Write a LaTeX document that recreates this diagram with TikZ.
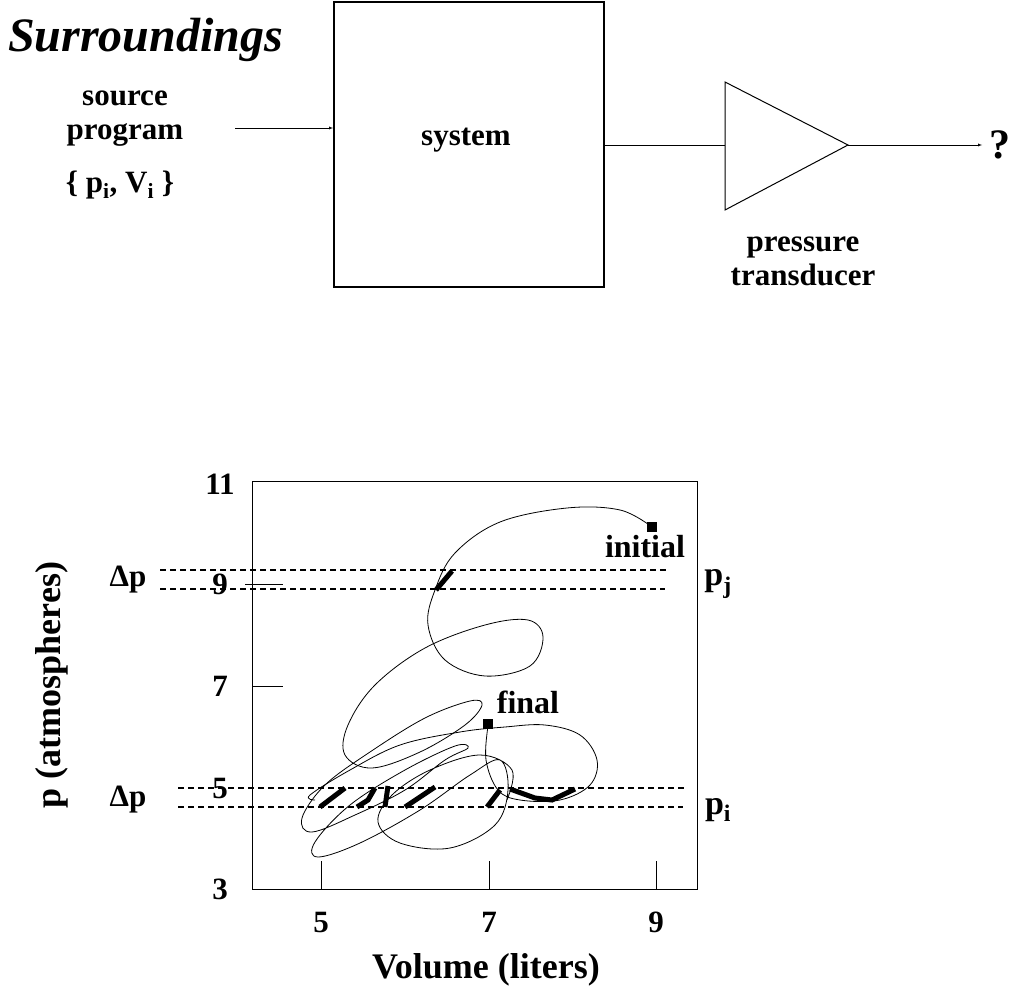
\documentclass[tikz,border=0pt]{standalone}
\usepackage{fontspec}
\setmainfont{Liberation Serif}
\begin{document}
\begin{tikzpicture}[x=1pt,y=-1pt,font=\bfseries\fontsize{31}{34}\selectfont,
  lab/.style={inner sep=0pt,align=center},
  dline/.style={line width=1.3pt,dash pattern=on 6pt off 4pt},
  curve/.style={line width=0.8pt},
  tseg/.style={line width=5pt},
  >=latex]
\useasboundingbox (0,0) rectangle (1024,1000);
% top
\node[lab,font=\bfseries\itshape\fontsize{48}{52}\selectfont,anchor=west] (sur) at (8,40) {Surroundings};
\node[draw,line width=1.8pt,minimum width=270pt,minimum height=285pt,anchor=north west] (sys) at (333,1) {};
\node[lab] (syst) at (466,140) {system};
\node[lab] (src) at (125,119) {source\\program};
\node[lab] (pv) at (120,185) {\{ p\textsubscript{i}, V\textsubscript{i} \}};
\coordinate (inA) at (235,128);
\draw[->] (inA) -- (sys.west |- inA);
\coordinate (tA) at (725,82); \coordinate (tB) at (725,210); \coordinate (tip) at (848,145);
\draw[line width=1pt] (tA) -- (tip) -- (tB) -- cycle;
\draw (sys.east |- tip) -- (tA |- tip);
\coordinate (q) at (982,145);
\draw[->] (tip) -- (q);
\node[lab,font=\bfseries\fontsize{42}{46}\selectfont] (qm) at (1000,145) {?};
\node[lab] (pt) at (803,261) {pressure\\transducer};
% plot
\node[draw,line width=1pt,minimum width=445pt,minimum height=408pt,anchor=north west] (ax) at (252,481) {};
\foreach \v/\y in {11/484,9/584,7/686,5/788,3/889}{\node[lab] at (220,\y) {\v};}
\foreach \v/\x in {5/321,7/489,9/656}{\node[lab] at (\x,922) {\v}; \draw (\x,889) -- (\x,861);}
\draw (245,584) -- (283,584);
\draw (252,686) -- (283,686);
\node[lab,rotate=90,font=\bfseries\fontsize{36}{40}\selectfont] (yl) at (52,685) {p (atmospheres)};
\node[lab,font=\bfseries\fontsize{36}{40}\selectfont] (xl) at (486,970) {Volume (liters)};
\node[lab] (dp1) at (128,580) {Δp};
\node[lab] (dp2) at (128,800) {Δp};
\node[lab,font=\bfseries\fontsize{34}{38}\selectfont] (pj) at (718,584) {p\textsubscript{j}};
\node[lab,font=\bfseries\fontsize{34}{38}\selectfont] (pi) at (718,810) {p\textsubscript{i}};
\draw[dline] (160,570) -- (667,570);
\draw[dline] (160,589) -- (665,589);
\draw[dline] (178,788) -- (685,788);
\draw[dline] (178,807) -- (683,807);
% curve
\draw[curve] plot[smooth,tension=0.6] coordinates {(652,527) (620,510) (567,508) (500,522) (455,553) (435,590) (428,625) (445,660) (485,676) (530,666) (543,637) (528,620) (485,625) (425,648) (375,685) (348,725) (345,755) (372,768) (420,752) (465,725) (482,705) (470,701) (425,718) (370,752) (325,785) (302,818) (312,832) (355,815) (405,790) (445,760) (468,748) (455,746) (405,770) (350,805) (315,842) (318,857) (360,843) (420,810) (470,775) (500,760) (508,790) (495,825) (450,848) (400,843) (378,822) (392,795) (430,770) (480,755) (512,770) (507,800)};
\draw[curve] plot[smooth,tension=0.6] coordinates {(488,726) (486,760) (498,790) (520,800) (560,800) (590,785) (597,760) (580,735) (545,725) (505,727) (460,732) (400,745) (350,770) (310,795) (315,800)};
\node[fill,minimum size=10pt,inner sep=0pt] (ini) at (652,527) {};
\node[fill,minimum size=10pt,inner sep=0pt] (fin) at (488,724) {};
\node[lab,font=\bfseries\fontsize{32}{36}\selectfont] (init) at (645,547) {initial};
\node[lab,font=\bfseries\fontsize{32}{36}\selectfont] (finl) at (528,702) {final};
% thick segments
\draw[tseg] (452,571) -- (436,590);
\draw[tseg] (345,788) -- (320,807);
\draw[tseg] (375,788) -- (368,800) -- (357,807);
\draw[tseg] (388,786) -- (385,807);
\draw[tseg] (435,787) -- (405,807);
\draw[tseg] (500,790) -- (487,807);
\draw[tseg] (510,789) -- (535,798) -- (552,800) -- (575,789);
\end{tikzpicture}
\end{document}
